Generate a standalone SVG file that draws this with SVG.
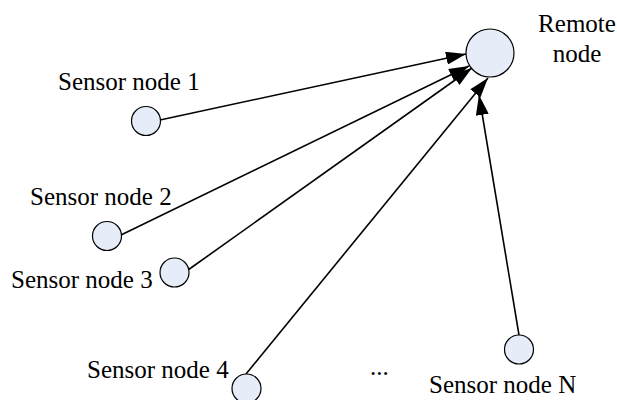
<svg xmlns="http://www.w3.org/2000/svg" width="617" height="400" viewBox="0 0 617 400">
<style>
.node{fill:#e6ecf8;stroke:#000;stroke-width:1.2}
.lbl{font-family:"Liberation Serif","Times New Roman",serif;font-size:25px;fill:#000}
.edge{stroke:#000;stroke-width:1.6;fill:none;marker-end:url(#arr)}
</style>
<defs>
<marker id="arr" markerUnits="userSpaceOnUse" markerWidth="21" markerHeight="13" refX="20" refY="6.5" orient="auto">
<path d="M0,0 L20,6.5 L0,13 z" fill="#000"/>
</marker>
</defs>
<rect width="617" height="400" fill="#fff"/>
<g id="connectors">
<line class="edge" x1="160" y1="120" x2="466" y2="54"/>
<line class="edge" x1="121" y1="235" x2="469" y2="66"/>
<line class="edge" x1="188" y1="270" x2="472" y2="68"/>
<line class="edge" x1="246" y1="374" x2="488" y2="78"/>
<line class="edge" x1="519" y1="335" x2="479" y2="95"/>
</g>
<g id="remote">
<circle class="node" cx="490" cy="53" r="24"/>
<text class="lbl" x="577" y="32" text-anchor="middle">Remote</text>
<text class="lbl" x="577" y="62" text-anchor="middle">node</text>
</g>
<g id="sensor1">
<circle class="node" cx="146" cy="121" r="14.5"/>
<text class="lbl" x="58" y="90">Sensor node 1</text>
</g>
<g id="sensor2">
<circle class="node" cx="107" cy="236" r="14.5"/>
<text class="lbl" x="30" y="205">Sensor node 2</text>
</g>
<g id="sensor3">
<circle class="node" cx="174.5" cy="272.5" r="14.5"/>
<text class="lbl" x="11" y="288">Sensor node 3</text>
</g>
<g id="sensor4">
<circle class="node" cx="246.5" cy="388.5" r="14.5"/>
<text class="lbl" x="87" y="378">Sensor node 4</text>
</g>
<g id="sensorN">
<circle class="node" cx="519" cy="349.5" r="14.5"/>
<text class="lbl" x="429" y="393">Sensor node N</text>
</g>
<text class="lbl" x="370" y="375">...</text>
</svg>
